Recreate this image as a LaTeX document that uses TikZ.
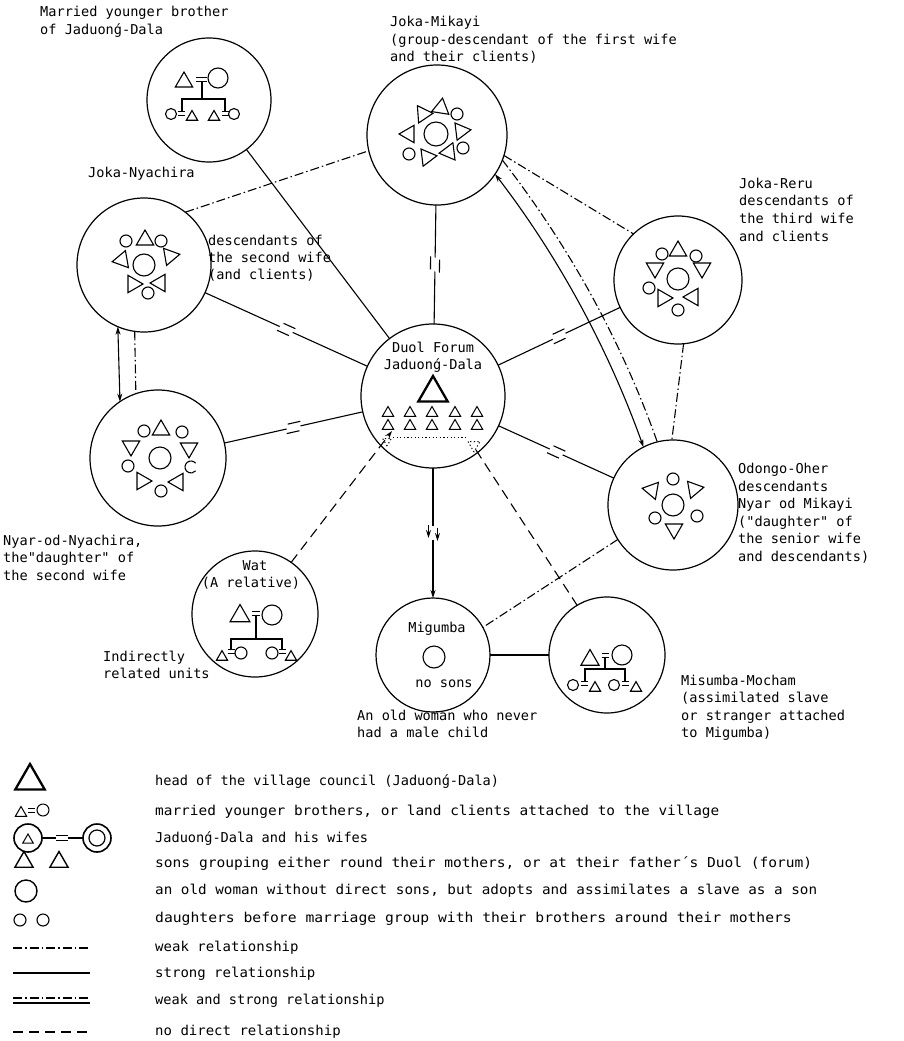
\documentclass[tikz,border=0pt]{standalone}
\usepackage{fontspec}
\usepackage{graphicx}
\newfontfamily\lblfont{DejaVu Sans Mono}
\usetikzlibrary{arrows.meta,decorations.markings}
\newcommand\tri[4][]{\draw[line width=1.1pt,#1,shift={(#2)},rotate=#4] (0,-#3) -- ({0.866*#3},{0.5*#3}) -- ({-0.866*#3},{0.5*#3}) -- cycle;}
\newcommand\ring[3][]{\draw[line width=1.1pt,#1] (#2) circle[radius=#3pt];}
\newcommand\eqs[3]{\draw[line width=1pt] (#1-#3,#2-2) -- (#1+#3,#2-2) (#1-#3,#2+2) -- (#1+#3,#2+2);}
\newcommand\wide[2]{\scalebox{#1}[1]{#2}}
\begin{document}
\begin{tikzpicture}[x=1pt,y=-1pt,
  every node/.style={font=\lblfont\fontsize{13.6}{16}\selectfont, inner sep=0pt},
  bigc/.style={circle, draw, line width=1.2pt, inner sep=0pt, outer sep=0pt},
  lbl/.style={anchor=base west},
  weak/.style={line width=1.1pt, dash pattern=on 9pt off 3pt on 1.5pt off 3pt},
  strong/.style={line width=1.1pt},
  nodirect/.style={line width=1.1pt, dash pattern=on 10pt off 6pt},
  brk/.style={postaction={decorate,decoration={markings,mark=at position 0.5 with {\fill[white] (-7pt,-2pt) rectangle (7pt,2pt); \draw[line width=1.1pt] (-8pt,-4.5pt) -- (5pt,-4.5pt); \draw[line width=1.1pt] (-5pt,4.5pt) -- (8pt,4.5pt);}}}},
  tip/.style={-{Stealth[length=8pt,width=5pt]}},
  tips/.style={{Stealth[length=8pt,width=5pt]}-{Stealth[length=8pt,width=5pt]}},
]
\fill[white] (0,0) rectangle (903,1041);
\useasboundingbox (0,0) rectangle (903,1041);

% ---------- circles ----------
\node[bigc,minimum size=124pt] (m) at (209,100) {};
\node[bigc,minimum size=140pt] (jm) at (437,135) {};
\node[bigc,minimum size=134pt] (jn) at (144,265) {};
\node[bigc,minimum size=128pt] (jr) at (678,280) {};
\node[bigc,minimum size=144pt] (d) at (433,396) {};
\node[bigc,minimum size=130pt] (oo) at (673,505) {};
\node[bigc,minimum size=136pt] (nn) at (158,458) {};
\node[bigc,minimum size=126pt] (w) at (255,614) {};
\node[bigc,minimum size=114pt] (mg) at (433,655) {};
\node[bigc,minimum size=116pt] (mm) at (607,655) {};

% ---------- connectors ----------
\draw[strong] (m) -- (d);
\draw[strong,brk] (jm) -- (d);
\draw[strong,brk] (jn) -- (d);
\draw[strong,brk] (nn) -- (d);
\draw[strong,brk] (d) -- (jr);
\draw[strong,brk] (d) -- (oo);
\draw[strong,brk,tip] (d) -- (mg);
\draw[strong] (mg) -- (mm);
\draw[strong,tips] (jn.247) -- (nn.124);
\draw[weak] (jn.262) -- (nn.109);
\draw[weak] (jn.52) -- (jm.193);
\draw[weak] (jm.-17) -- (jr.134);
\draw[strong,tips] (jm.-34) .. controls (558,256) and (608,348) .. (oo.117);
\draw[weak] (jm.-21) .. controls (569,246) and (621,340) .. (oo.104);
\draw[weak] (jr.-85) -- (oo.91);
\draw[weak] (oo.212) -- (mg.29);
\coordinate (dl) at (392,431);
\coordinate (dr) at (476,450);
\draw[nodirect,tip] (w.55) -- (dl);
\draw[nodirect] (dr) -- (mm.121);
\draw[line width=1pt,dash pattern=on 1.2pt off 2.4pt] (393,437) -- (468,437);
\tri[line width=1pt,dash pattern=on 1.2pt off 2.4pt]{474,445}{7}{180}
\tri[line width=1pt,dash pattern=on 1.2pt off 2.4pt]{387,441}{5}{180}

% ---------- married younger brother symbol ----------
\tri{184,82}{10}{0}
\eqs{201.5}{79}{5.5}
\ring{218,78}{10}
\draw[line width=1.1pt] (202,81) -- (202,99) (182,111) -- (182,99) -- (225,99) -- (225,111);
\ring{171,114}{5.5}\eqs{181}{113}{3.5}\tri{192,117}{6.5}{0}
\tri{214,117}{6.5}{0}\eqs{225}{113}{3.5}\ring{234,114}{5.5}

% ---------- Joka-Mikayi ----------
\ring{436,134}{12}
\tri{423,114}{10}{34}
\tri{441,108}{10}{-9}
\tri{461,131}{10}{-83}
\tri{449,152}{10}{-143}
\tri{427,157}{10}{157}
\tri{409,134}{10}{90}
\ring{457,114}{6}\ring{463,148}{6}\ring{409,154}{6}

% ---------- Joka-Nyachira ----------
\ring{144,265}{11}
\tri{145,240}{10}{0}
\tri{170,256}{10}{160}
\tri{122,260}{10}{100}
\tri{133,284}{10}{-90}
\tri{160,283}{10}{90}
\ring{126,241}{6}\ring{161,241}{6}\ring{148,293}{6}

% ---------- Joka-Reru ----------
\ring{678,279}{11}
\tri{678,251}{10}{0}
\tri{702,268}{10}{180}
\tri{655,268}{10}{180}
\tri{663,298}{10}{-90}
\tri{693,297}{10}{90}
\ring{662,254}{6}\ring{696,256}{6}\ring{649,288}{6}\ring{678,310}{6}

% ---------- Nyar-od-Nyachira ----------
\ring{160,458}{11}
\tri{161,430}{10}{0}
\tri{131,446}{10}{180}
\tri{189,448}{10}{180}
\tri{142,481}{10}{-90}
\tri{178,482}{10}{90}
\ring{144,431}{6}\ring{182,432}{6}\ring{128,466}{6}\ring{161,491}{6}
\draw[line width=1.1pt] ([shift={(40:6pt)}]191,467) arc[start angle=40,end angle=320,radius=6pt];

% ---------- Odongo-Oher ----------
\ring{673,505}{11}
\ring{673,479}{6}\ring{655,518}{6}\ring{697,516}{6}
\tri{652,490}{10}{200}
\tri{694,489}{10}{160}
\tri{674,529}{10}{180}

% ---------- Duol ----------
\tri[line width=2.3pt]{433,393}{17}{0}
\foreach \xx in {388,410,432,455,477}{\tri[line width=1pt]{\xx,413}{6.5}{0}\tri[line width=1pt]{\xx,426}{6.5}{0}}

% ---------- Wat ----------
\tri{240,616}{11.5}{0}
\eqs{256}{613}{4}
\ring{272,615}{10}
\draw[line width=1.1pt] (256,615) -- (256,639) (231,649) -- (231,639) -- (282,639) -- (282,649);
\tri{222,657}{6.4}{0}\eqs{231}{651}{3.5}\ring{241,653}{6}
\ring{272,653}{6}\eqs{282}{651}{3.5}\tri{291,657}{6.4}{0}

% ---------- Migumba ----------
\ring{434,657}{11}

% ---------- Misumba-Mocham ----------
\tri{590,660}{10.5}{0}
\eqs{605}{655}{3.5}
\ring{622,655}{10}
\draw[line width=1.1pt] (605,657) -- (605,669) (585,681) -- (585,669) -- (625,669) -- (625,681);
\ring{573,685}{5.5}\eqs{584}{683}{3.5}\tri{595,688}{6.4}{0}
\ring{614,685}{5.5}\eqs{625}{683}{3.5}\tri{636,688}{6.4}{0}

% ---------- labels ----------
\node[lbl] (t1) at (40,17) {Married younger brother};
\node[lbl] (t2) at (40,35) {of Jaduonǵ-Dala};
\node[lbl] (t3) at (390,27) {Joka-Mikayi};
\node[lbl] (t4) at (390,45) {(group-descendant of the first wife};
\node[lbl] (t5) at (390,62) {and their clients)};
\node[lbl] (t6) at (88,177) {Joka-Nyachira};
\node[lbl] (t7) at (208,245) {descendants of};
\node[lbl] (t8) at (208,262) {the second wife};
\node[lbl] (t9) at (208,279) {(and clients)};
\node[lbl] (t10) at (739,188) {Joka-Reru};
\node[lbl] (t11) at (739,205) {descendants of};
\node[lbl] (t12) at (739,223) {the third wife};
\node[lbl] (t13) at (739,241) {and clients};
\node[anchor=base] (t14) at (433,352) {Duol Forum};
\node[anchor=base] (t15) at (433,369) {Jaduonǵ-Dala};
\node[lbl] (t16) at (738,473) {Odongo-Oher};
\node[lbl] (t17) at (738,491) {descendants};
\node[lbl] (t18) at (738,508) {Nyar od Mikayi};
\node[lbl] (t19) at (738,526) {("daughter" of};
\node[lbl] (t20) at (738,543) {the senior wife};
\node[lbl] (t21) at (738,561) {and descendants)};
\node[lbl] (t22) at (3,545) {Nyar-od-Nyachira,};
\node[lbl] (t23) at (3,562) {the"daughter" of};
\node[lbl] (t24) at (3,580) {the second wife};
\node[anchor=base] (t25) at (255,570) {Wat};
\node[anchor=base] (t26) at (251,587) {(A relative)};
\node[lbl] (t27) at (103,661) {Indirectly};
\node[lbl] (t28) at (103,678) {related units};
\node[anchor=base] (t29) at (437,632) {Migumba};
\node[anchor=base] (t30) at (444,687) {no sons};
\node[lbl] (t31) at (357,720) {An old woman who never};
\node[lbl] (t32) at (357,737) {had a male child};
\node[lbl] (t33) at (681,685) {Misumba-Mocham};
\node[lbl] (t34) at (681,702) {(assimilated slave};
\node[lbl] (t35) at (681,720) {or stranger attached};
\node[lbl] (t36) at (681,737) {to Migumba)};

% ---------- legend ----------
\tri[line width=2.3pt]{30,781}{17}{0}
\tri[line width=1pt]{21,813}{6.5}{0}\eqs{31.5}{810}{3.5}\ring[line width=1pt]{43,810}{6}
\ring[line width=1.6pt]{28,838}{14}\tri[line width=1pt]{28,840}{6}{0}
\draw[line width=1.4pt] (42,838) -- (56,838) (68,838) -- (83,838);
\draw[line width=1.2pt] (56,835.5) -- (68,835.5) (56,840.5) -- (68,840.5);
\ring[line width=1.6pt]{97,838}{14}\ring[line width=1.2pt]{97,838}{8}
\tri[line width=1.4pt]{24,862}{10.5}{0}\tri[line width=1.4pt]{59,862}{10.5}{0}
\ring[line width=1.4pt]{26,891}{11}
\ring{20,920}{6}\ring{43,920}{6}
\draw[weak] (13,948) -- (90,948);
\draw[strong] (13,973) -- (90,973);
\draw[weak] (13,998) -- (90,998);
\draw[strong] (13,1003) -- (90,1003);
\draw[nodirect] (13,1032) -- (90,1032);
\node[lbl] (g1) at (155,785) {head of the village council (Jaduonǵ-Dala)};
\node[lbl] (g2) at (155,815) {\wide{1.06}{married younger brothers, or land clients attached to the village}};
\node[lbl] (g3) at (155,842) {Jaduonǵ-Dala and his wifes};
\node[lbl] (g4) at (155,867) {\wide{1.07}{sons grouping either round their mothers, or at their father´s Duol (forum)}};
\node[lbl] (g5) at (155,894) {\wide{1.05}{an old woman without direct sons, but adopts and assimilates a slave as a son}};
\node[lbl] (g6) at (155,922) {\wide{1.08}{daughters before marriage group with their brothers around their mothers}};
\node[lbl] (g7) at (155,951) {\wide{1.03}{weak relationship}};
\node[lbl] (g8) at (155,977) {\wide{1.03}{strong relationship}};
\node[lbl] (g9) at (155,1004) {weak and strong relationship};
\node[lbl] (g10) at (155,1035) {\wide{1.03}{no direct relationship}};
\end{tikzpicture}
\end{document}
